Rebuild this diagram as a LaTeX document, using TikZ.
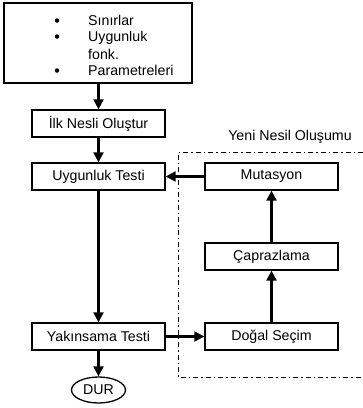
\documentclass[tikz,border=0pt]{standalone}
\usepackage{fontspec}
\setmainfont{Liberation Sans}
\usepackage{tikz}
\usetikzlibrary{arrows.meta,shapes.geometric}

\begin{document}
\begin{tikzpicture}[x=1pt, y=-1pt,
        every node/.style={font=\fontsize{14.2}{16}\selectfont},
        proc/.style={draw=black, line width=1.3pt, minimum width=133pt, minimum height=27pt, inner sep=0pt},
        stop/.style={ellipse, draw=black, line width=1.3pt, minimum width=54pt, minimum height=26pt, inner sep=0pt},
        flow/.style={-{Triangle[length=10pt, width=10pt]}, line width=2.1pt},
        dot/.style={circle, fill=black, inner sep=0pt, minimum size=4.5pt},
        item/.style={anchor=base west, inner sep=0pt}
    ]
        \useasboundingbox (0,0) rectangle (363,408);

        % Nodes
        \node[proc, minimum width=188pt, minimum height=80pt] (lims) at (98,43) {};
        \node[dot] (d1) at (57,20.5) {};
        \node[dot] (d2) at (57,36.5) {};
        \node[dot] (d3) at (57,70.5) {};
        \node[item] (t1) at (88,25) {Sınırlar};
        \node[item] (t2) at (88,41) {Uygunluk};
        \node[item] (t3) at (88,59) {fonk.};
        \node[item] (t4) at (88,75) {Parametreleri};

        \node[proc] (init) at (98.5,123.5) {İlk Nesli Oluştur};
        \node[proc] (fit) at (98.5,176.5) {Uygunluk Testi};
        \node[proc] (conv) at (98.5,336.5) {Yakınsama Testi};
        \node[stop] (dur) at (98.5,390) {DUR};

        \node[proc] (mut) at (271.5,176.5) {Mutasyon};
        \node[proc] (cross) at (271.5,256.5) {Çaprazlama};
        \node[proc] (sel) at (271.5,336.5) {Doğal Seçim};

        % Edges
        \draw[flow] (lims.south -| init) -- (init);
        \draw[flow] (init) -- (fit);
        \draw[flow] (fit) -- (conv);
        \draw[flow] (conv) -- (dur);
        \draw[flow] (conv) -- (sel);
        \draw[flow] (sel) -- (cross);
        \draw[flow] (cross) -- (mut);
        \draw[flow] (mut) -- (fit);

        % Group (dash-dot, open at the right)
        \draw[line width=1pt, dash pattern=on 5pt off 3pt on 1.5pt off 3pt]
            (363,152) -- (178,152) -- (178,377) -- (363,377);
        \node (grp) at (290,137) {Yeni Nesil Oluşumu};

    \end{tikzpicture}
\end{document}
